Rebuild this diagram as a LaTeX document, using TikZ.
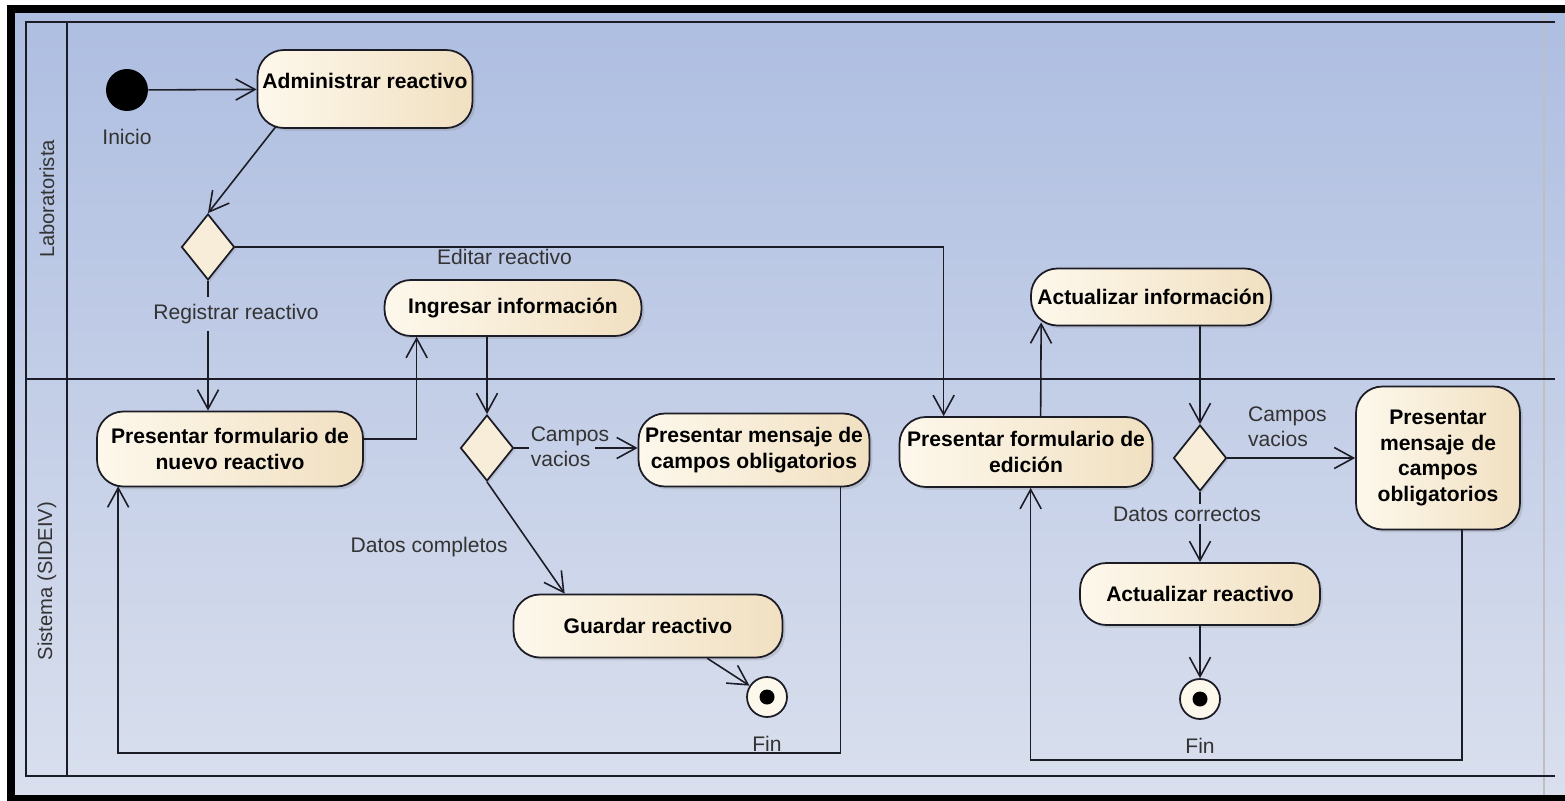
\documentclass[tikz,border=0pt]{standalone}
\usepackage{fontspec}
\setmainfont{Liberation Sans}
\usetikzlibrary{arrows.meta, positioning, shapes.geometric, calc, shadows}

\definecolor{lanetop}{RGB}{174,190,225}
\definecolor{lanebot}{RGB}{217,223,237}
\definecolor{creamlt}{RGB}{253,248,236}
\definecolor{creamdk}{RGB}{241,224,193}
\definecolor{edge}{RGB}{28,28,38}

\tikzset{
  action/.style={rounded corners=15pt, draw=edge, line width=1pt,
    left color=creamlt, right color=creamdk, align=center, inner sep=2pt,
    font=\fontsize{12}{14.5}\selectfont\bfseries,
    drop shadow={shadow xshift=1.6pt, shadow yshift=-1.6pt, opacity=0.25}},
  decision/.style={diamond, draw=edge, line width=1pt, fill=creamlt!55!creamdk,
    minimum width=1.06cm, minimum height=1.32cm, inner sep=0pt,
    drop shadow={shadow xshift=1.2pt, shadow yshift=-1.2pt, opacity=0.2}},
  startnode/.style={circle, fill=black, minimum size=0.84cm, inner sep=0pt},
  endnode/.style={circle, draw=edge, line width=1pt, fill=creamlt, minimum size=0.8cm,
    inner sep=0pt, path picture={\fill[black] (path picture bounding box.center) circle (0.15cm);}},
  guard/.style={font=\fontsize{12}{14}\selectfont, text=black!80, inner sep=2pt},
  lane/.style={draw=edge, line width=1pt},
  flow/.style={draw=edge, line width=0.9pt, -{Straight Barb[length=11pt, width=12pt, line width=0.9pt]}},
  line/.style={draw=edge, line width=0.9pt}
}

\begin{document}
\begin{tikzpicture}[x=0.02cm, y=-0.02cm]
\useasboundingbox (0,0) rectangle (1565,801);

% frame and swimlanes
\fill[white] (0,0) rectangle (1565,801);
\shade[top color=lanetop, bottom color=lanebot] (15,13) rectangle (1565,795);
\fill[black] (7,5) rectangle (15,801);
\fill[black] (7,5) rectangle (1565,13);
\fill[black] (7,795) rectangle (1565,801);
\draw[black!25, line width=0.6pt] (1544,13) -- (1544,795);
\draw[lane] (1555,22) -- (26,22) -- (26,776) -- (1555,776);
\draw[lane] (26,379) -- (1555,379);
\draw[lane] (67,22) -- (67,776);
\node[guard, rotate=90, font=\fontsize{11.5}{14}\selectfont] (labLane) at (47,199) {Laboratorista};
\node[guard, rotate=90, font=\fontsize{11.5}{14}\selectfont] (sysLane) at (47,581) {Sistema (SIDEIV)};

% Laboratorista
\node[startnode] (ini) at (127,90) {};
\node[guard, below=0.28cm of ini] (iniLab) {Inicio};
\node[action, minimum width=4.30cm, minimum height=1.56cm] (adm) at (365,89) {Administrar reactivo\\[-5pt]\mbox{}};
\node[decision] (d1) at (208,247) {};
\node[action, minimum width=5.14cm, minimum height=1.12cm] (ing) at (513,308) {Ingresar información};
\node[action, minimum width=4.80cm, minimum height=1.14cm] (ai) at (1151,297) {Actualizar información};

% Sistema
\node[action, minimum width=5.32cm, minimum height=1.50cm] (pfn) at (230,449) {Presentar formulario de\\nuevo reactivo};
\node[decision] (d2) at (487,448) {};
\node[action, minimum width=4.62cm, minimum height=1.46cm] (pm1) at (754,450) {Presentar mensaje de\\campos obligatorios};
\node[action, minimum width=5.38cm, minimum height=1.26cm] (gr) at (648,626) {Guardar reactivo};
\node[endnode] (fin1) at (767,697) {};
\node[guard, below=0.28cm of fin1] (fin1Lab) {Fin};
\node[action, minimum width=5.06cm, minimum height=1.40cm] (pfe) at (1026,452) {Presentar formulario de\\edición};
\node[decision] (d3) at (1200,458) {};
\node[action, minimum width=3.28cm, minimum height=2.86cm, text width=2.9cm] (pm2) at (1438,458) {Presentar\\mensaje de\\campos\\obligatorios};
\node[action, minimum width=4.80cm, minimum height=1.24cm] (ar) at (1200,594) {Actualizar reactivo};
\node[endnode] (fin2) at (1200,699) {};
\node[guard, below=0.28cm of fin2] (fin2Lab) {Fin};

% guard labels that break their line
\node[guard, inner ysep=4pt] (reg) at (236,314) {Registrar reactivo};
\node[guard, align=left, inner xsep=1pt] (cv1) at (570,447) {Campos\\vacios};
\node[guard, inner ysep=1.5pt] (dcor) at (1187,514) {Datos correctos};

% flows
\draw[flow] (ini) -- (adm);
\draw[flow] ($(adm.south west)+(19,-2)$) -- (d1.north);
\draw[flow] (d1.east) -| node[guard, below, pos=0.19, inner sep=1pt] {Editar reactivo} ($(pfe.north west)+(45,0)$);
\draw[line] (d1.south) -- (reg.north -| d1.south);
\draw[flow] (reg.south -| d1.south) -- (pfn.north -| d1.south);
\draw[flow] ($(pfn.east)+(0,-10)$) -| ($(ing.south west)+(33,0)$);
\draw[flow] (d2.north |- ing.south) -- (d2.north);
\draw[line] (d2.east) -- (cv1.west |- d2.east);
\draw[flow] ($(cv1.east |- d2.east)+(-16,0)$) -- (pm1.west |- d2.east);
\draw[flow] (d2.south) -- node[guard, pos=0.58, left=0.4cm] {Datos completos} ($(gr.north west)+(52,0)$);
\draw[flow] ($(gr.south east)+(-76,0)$) -- (fin1);
\coordinate (loop1) at (480,753);
\draw[flow] ($(pm1.south east)+(-30,0)$) |- (loop1) -| ($(pfn.south west)+(22,-1)$);

\draw[flow] ($(pfe.north west)+(142,0)$) -- ($(ai.south west)+(11,-4)$);
\draw[flow] (d3.north |- ai.south) -- (d3.north);
\draw[flow] (d3.east) -- node[guard, above=4pt, align=left, pos=0.47] {Campos\\vacios} (pm2.west |- d3.east);
\draw[line] (d3.south) -- (dcor.north -| d3.south);
\draw[flow] (dcor.south -| d3.south) -- (ar.north -| d3.south);
\draw[flow] (ar.south -| fin2) -- (fin2);
\coordinate (loop2) at (1250,760);
\draw[flow] ($(pm2.south west)+(107,0)$) |- (loop2) -| ($(pfe.south west)+(132,0)$);
\end{tikzpicture}
\end{document}
